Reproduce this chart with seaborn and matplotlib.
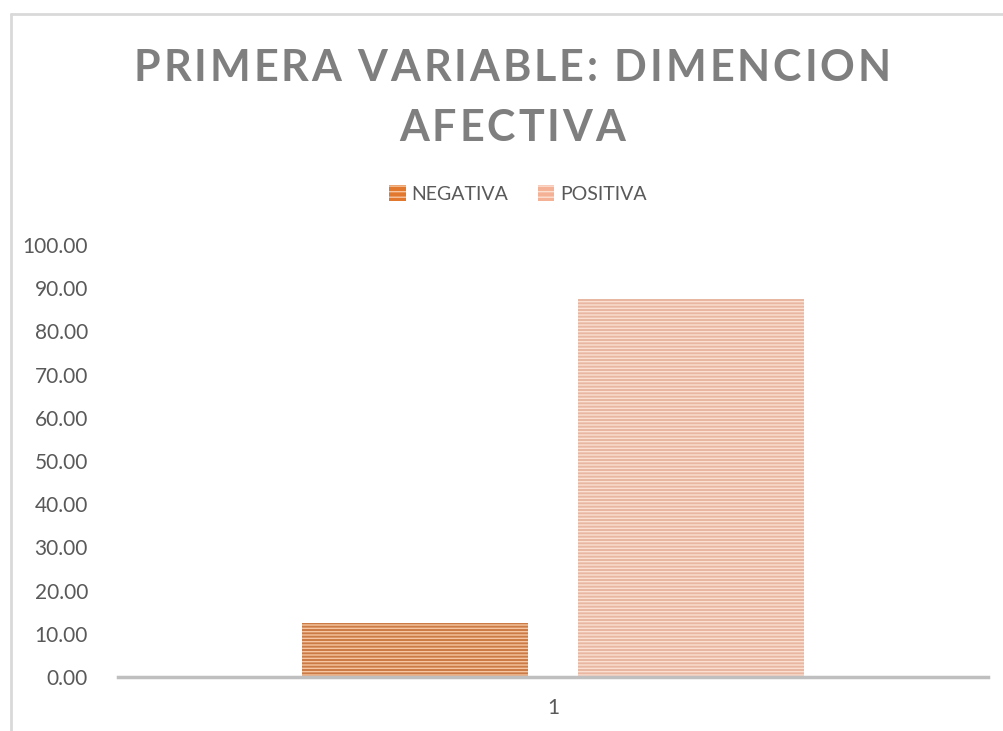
import matplotlib
matplotlib.use("Agg")
import matplotlib.pyplot as plt
import matplotlib.patches as mpatches
import matplotlib.lines as mlines
import pandas as pd
import seaborn as sns

# datos del grafico
categorias = ["1", "1"]
series = ["NEGATIVA", "POSITIVA"]
valores = [12.5, 87.5]
yticks = [0, 10, 20, 30, 40, 50, 60, 70, 80, 90, 100]
titulo = ["PRIMERA VARIABLE: DIMENCION", "AFECTIVA"]
colores = ["#E2772E", "#F4B195"]
rayas = ["#F6C6A2", "#FBE0D2"]

sns.set_theme(style="white")
plt.rcParams['font.family'] = ['Lato', 'DejaVu Sans']

df = pd.DataFrame({"cat": categorias, "serie": series, "valor": valores})

W, H = 1004, 731
fig = plt.figure(figsize=(W / 100, H / 100), dpi=100)
ax = fig.add_axes([118 / W, 1 - 677 / H, 870 / W, 432 / H])

sns.barplot(data=df, x="cat", y="valor", hue="serie", palette=colores,
            width=0.634, gap=0.181, ax=ax, legend=False)

for bar, c in zip(ax.patches, rayas):
    bar.set_hatch("-----")
    bar.set_edgecolor(c)
    bar.set_linewidth(0)

ax.set_xlim(-0.5, 0.5)
ax.set_ylim(0, 100)
ax.set_yticks(yticks)
ax.set_yticklabels([f"{v:.2f}" for v in yticks], fontsize=15, color="#595959")
ax.tick_params(axis="x", labelsize=15, labelcolor="#595959", pad=15, length=0)
ax.tick_params(axis="y", length=0, pad=21.6)
ax.set_xlabel("")
ax.set_ylabel("")
for s in ["top", "right", "left"]:
    ax.spines[s].set_visible(False)
ax.spines["bottom"].set_color("#BFBFBF")
ax.spines["bottom"].set_linewidth(2.5)


# titulo con espaciado entre letras (como Excel)
renderer = fig.canvas.get_renderer()


def ancho(txt, **kw):
    t = fig.text(0, 0, txt, **kw)
    w = t.get_window_extent(renderer).width
    t.remove()
    return w


estilo = dict(fontsize=31, fontweight="bold", color="#7F7F7F")
anchos = {}
for ch in set("".join(titulo)):
    if ch == " ":
        anchos[ch] = ancho("a a", **estilo) - ancho("aa", **estilo)
    else:
        anchos[ch] = ancho(ch, **estilo)

natural = sum(anchos[ch] for ch in titulo[0])
espacio = (757 - natural) / (len(titulo[0]) - 1)

for linea, yc in zip(titulo, [68, 128]):
    total = sum(anchos[ch] for ch in linea) + espacio * (len(linea) - 1)
    x = 512 - total / 2
    for ch in linea:
        if ch != " ":
            fig.text(x / W, 1 - yc / H, ch, ha="left", va="center", **estilo)
        x += anchos[ch] + espacio

handles = [mpatches.Patch(facecolor=c, edgecolor=r, hatch="---", linewidth=0)
           for c, r in zip(colores, rayas)]
fig.legend(handles, series, loc="center", bbox_to_anchor=(518 / W, 1 - 194 / H),
           ncol=2, frameon=False, fontsize=14, labelcolor="#595959",
           handlelength=0.85, handleheight=0.85, handletextpad=0.3, columnspacing=1.5)

# borde del area del grafico
fig.add_artist(mlines.Line2D([11 / W, 11 / W], [0, 1 - 14 / H],
                             color="#D9D9D9", lw=2, transform=fig.transFigure))
fig.add_artist(mlines.Line2D([11 / W, 1], [1 - 14 / H, 1 - 14 / H],
                             color="#D9D9D9", lw=2, transform=fig.transFigure))

fig.savefig("out.png", dpi=100)
